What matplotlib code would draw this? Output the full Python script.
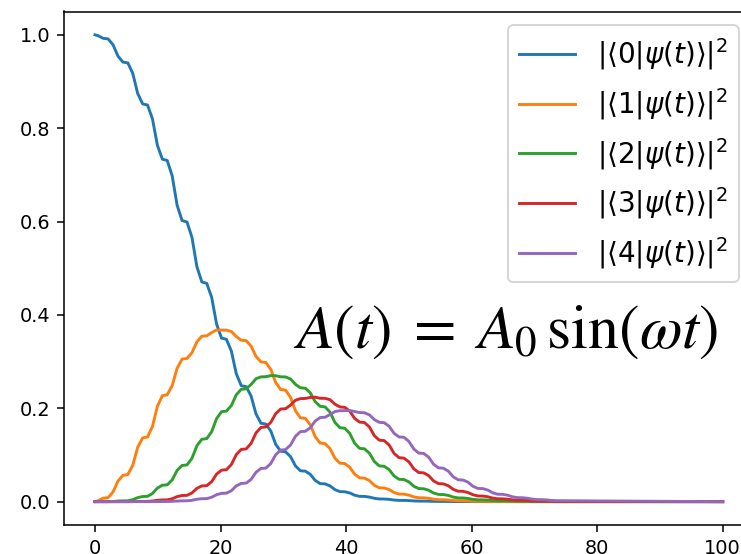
import matplotlib
matplotlib.use("Agg")
import matplotlib.pyplot as plt

# time samples
t = [0.0, 0.52, 1.31,
     2.09, 2.88, 3.66, 4.45,
     5.23, 6.02, 6.80, 7.59,
     8.37, 9.16, 9.94, 10.73,
     11.51, 12.30, 13.08, 13.87,
     14.66, 15.45, 16.23, 17.02,
     17.80, 18.59, 19.37, 20.16,
     20.94, 21.73, 22.51, 23.30,
     24.08, 24.87, 25.65, 26.44,
     27.22, 28.01, 28.79, 29.58,
     30.36, 31.15, 31.94, 32.72,
     33.51, 34.30, 35.08, 35.87,
     36.65, 37.44, 38.22, 39.01,
     39.79, 40.58, 41.36, 42.15,
     42.93, 43.72, 44.50, 45.29,
     46.07, 46.86, 47.64, 48.43,
     49.21, 50.00, 50.79, 51.57,
     52.36, 53.15, 53.93, 54.72,
     55.50, 56.29, 57.07, 57.86,
     58.64, 59.43, 60.21, 61.00,
     61.78, 62.57, 63.35, 64.14,
     64.92, 65.71, 66.50, 67.28,
     68.06, 68.85, 69.64, 70.42,
     71.21, 72.00, 72.78, 73.57,
     100.0]

p0 = [1.0, 0.998, 0.9925,
      0.9914, 0.9786, 0.9544, 0.9416,
      0.9399, 0.9174, 0.8746, 0.8521,
      0.8496, 0.8199, 0.7635, 0.7338,
      0.7308, 0.6978, 0.6352, 0.6022,
      0.5990, 0.5661, 0.5036, 0.4707,
      0.4677, 0.4376, 0.3805, 0.3504,
      0.3478, 0.3223, 0.2740, 0.2485,
      0.2463, 0.2262, 0.1880, 0.1679,
      0.1662, 0.1513, 0.1229, 0.1080,
      0.1068, 0.0964, 0.0766, 0.0662,
      0.0654, 0.0585, 0.0455, 0.0386,
      0.0381, 0.0338, 0.0258, 0.0215,
      0.0212, 0.0187, 0.0139, 0.0114,
      0.0112, 0.0098, 0.0072, 0.0058,
      0.0057, 0.0049, 0.0035, 0.0027,
      0.0027, 0.0023, 0.0016, 0.0012,
      0.0012, 0.0010, 0.0007, 0.0005,
      0.0005, 0.0004, 0.0003, 0.0002,
      0.0002, 0.0002, 0.0001, 0.0001,
      0.0001, 0.0001, 0.0, 0.0,
      0.0, 0.0, 0.0, 0.0,
      0.0, 0.0, 0.0, 0.0,
      0.0, 0.0, 0.0, 0.0,
      0.0]

p1 = [0.0, 0.002, 0.0075,
      0.0086, 0.0209, 0.0441, 0.0564,
      0.0580, 0.0781, 0.1164, 0.1365,
      0.1386, 0.1613, 0.2043, 0.2270,
      0.2290, 0.2486, 0.2857, 0.3053,
      0.3068, 0.3190, 0.3423, 0.3545,
      0.3552, 0.3623, 0.3678, 0.3675,
      0.3673, 0.3645, 0.3537, 0.3458,
      0.3449, 0.3332, 0.3111, 0.2994,
      0.2981, 0.2832, 0.2551, 0.2402,
      0.2388, 0.2236, 0.1948, 0.1796,
      0.1783, 0.1647, 0.1391, 0.1255,
      0.1244, 0.1136, 0.0933, 0.0825,
      0.0816, 0.0738, 0.0589, 0.0511,
      0.0504, 0.0451, 0.0350, 0.0297,
      0.0292, 0.0259, 0.0196, 0.0163,
      0.0160, 0.0141, 0.0103, 0.0084,
      0.0082, 0.0072, 0.0052, 0.0042,
      0.0041, 0.0035, 0.0025, 0.0019,
      0.0019, 0.0016, 0.0011, 0.0008,
      0.0008, 0.0007, 0.0004, 0.0003,
      0.0003, 0.0002, 0.0002, 0.0001,
      0.0001, 0.0001, 0.0, 0.0,
      0.0, 0.0, 0.0, 0.0,
      0.0]

p2 = [0.0, 0.0, 0.0,
      0.0000, 0.0004, 0.0013, 0.0017,
      0.0018, 0.0042, 0.0086, 0.0110,
      0.0114, 0.0175, 0.0291, 0.0352,
      0.0360, 0.0467, 0.0668, 0.0775,
      0.0787, 0.0928, 0.1196, 0.1337,
      0.1351, 0.1499, 0.1779, 0.1927,
      0.1940, 0.2060, 0.2288, 0.2408,
      0.2417, 0.2510, 0.2634, 0.2673,
      0.2676, 0.2701, 0.2698, 0.2674,
      0.2672, 0.2628, 0.2513, 0.2440,
      0.2430, 0.2331, 0.2141, 0.2042,
      0.2031, 0.1917, 0.1698, 0.1584,
      0.1573, 0.1462, 0.1253, 0.1142,
      0.1132, 0.1038, 0.0860, 0.0766,
      0.0758, 0.0686, 0.0551, 0.0479,
      0.0474, 0.0424, 0.0330, 0.0280,
      0.0276, 0.0245, 0.0186, 0.0155,
      0.0152, 0.0134, 0.0098, 0.0080,
      0.0079, 0.0069, 0.0049, 0.0039,
      0.0039, 0.0033, 0.0024, 0.0018,
      0.0018, 0.0015, 0.0011, 0.0008,
      0.0008, 0.0007, 0.0004, 0.0003,
      0.0003, 0.0002, 0.0002, 0.0001,
      0.0]

p3 = [0.0, 0.0, 0.0,
      0.0, 0.0, 0.0, 0.0,
      0.0000, 0.0002, 0.0004, 0.0006,
      0.0006, 0.0014, 0.0029, 0.0037,
      0.0038, 0.0062, 0.0108, 0.0132,
      0.0135, 0.0187, 0.0285, 0.0337,
      0.0343, 0.0428, 0.0590, 0.0675,
      0.0684, 0.0796, 0.1007, 0.1119,
      0.1130, 0.1248, 0.1472, 0.1590,
      0.1601, 0.1699, 0.1886, 0.1984,
      0.1992, 0.2068, 0.2173, 0.2207,
      0.2211, 0.2232, 0.2237, 0.2215,
      0.2213, 0.2185, 0.2089, 0.2029,
      0.2021, 0.1940, 0.1785, 0.1704,
      0.1695, 0.1598, 0.1414, 0.1317,
      0.1308, 0.1214, 0.1035, 0.0942,
      0.0933, 0.0854, 0.0703, 0.0624,
      0.0617, 0.0558, 0.0445, 0.0386,
      0.0381, 0.0341, 0.0264, 0.0224,
      0.0221, 0.0195, 0.0148, 0.0122,
      0.0120, 0.0105, 0.0077, 0.0062,
      0.0061, 0.0053, 0.0038, 0.0030,
      0.0030, 0.0026, 0.0018, 0.0014,
      0.0014, 0.0012, 0.0008, 0.0006,
      0.0]

p4 = [0.0, 0.0, 0.0,
      0.0, 0.0, 0.0, 0.0,
      0.0, 0.0, 0.0, 0.0,
      0.0000, 0.0001, 0.0002, 0.0003,
      0.0003, 0.0007, 0.0013, 0.0017,
      0.0018, 0.0029, 0.0052, 0.0063,
      0.0065, 0.0094, 0.0149, 0.0178,
      0.0182, 0.0235, 0.0337, 0.0390,
      0.0397, 0.0477, 0.0630, 0.0710,
      0.0719, 0.0818, 0.1006, 0.1105,
      0.1115, 0.1213, 0.1401, 0.1499,
      0.1508, 0.1583, 0.1727, 0.1802,
      0.1808, 0.1866, 0.1930, 0.1948,
      0.1950, 0.1953, 0.1931, 0.1909,
      0.1904, 0.1859, 0.1758, 0.1699,
      0.1692, 0.1614, 0.1465, 0.1387,
      0.1379, 0.1292, 0.1128, 0.1041,
      0.1033, 0.0954, 0.0803, 0.0724,
      0.0717, 0.0653, 0.0532, 0.0468,
      0.0463, 0.0417, 0.0329, 0.0283,
      0.0280, 0.0249, 0.0190, 0.0159,
      0.0157, 0.0139, 0.0104, 0.0086,
      0.0084, 0.0074, 0.0054, 0.0044,
      0.0043, 0.0037, 0.0026, 0.0020,
      0.0]

series = [p0, p1, p2, p3, p4]
labels = [r'$|\langle %d|\psi(t)\rangle|^2$' % n for n in range(5)]
formula = r'$A(t)\;=\;A_0\,\sin(\omega t)$'

DPI = 139
fig = plt.figure(figsize=(741 / DPI, 554 / DPI), dpi=DPI)
W, H = 741, 554
ax = fig.add_axes([63.6 / W, 29 / H, (754.1 - 63.6) / W, (525 - 11.5) / H])

for y, lab in zip(series, labels):
    ax.plot(t, y, label=lab)

ax.set_xticks([0, 20, 40, 60, 80, 100])
ax.set_yticks([0.0, 0.2, 0.4, 0.6, 0.8, 1.0])

ax.legend(loc='upper right', bbox_to_anchor=(739 / W, 1 - 25 / H),
          bbox_transform=fig.transFigure, borderaxespad=0, fontsize=14.4)

fig.text(293 / W, 1 - 348 / H, formula, fontsize=32, math_fontfamily='stix',
         ha='left', va='baseline')

fig.savefig('out.png', dpi=DPI)
